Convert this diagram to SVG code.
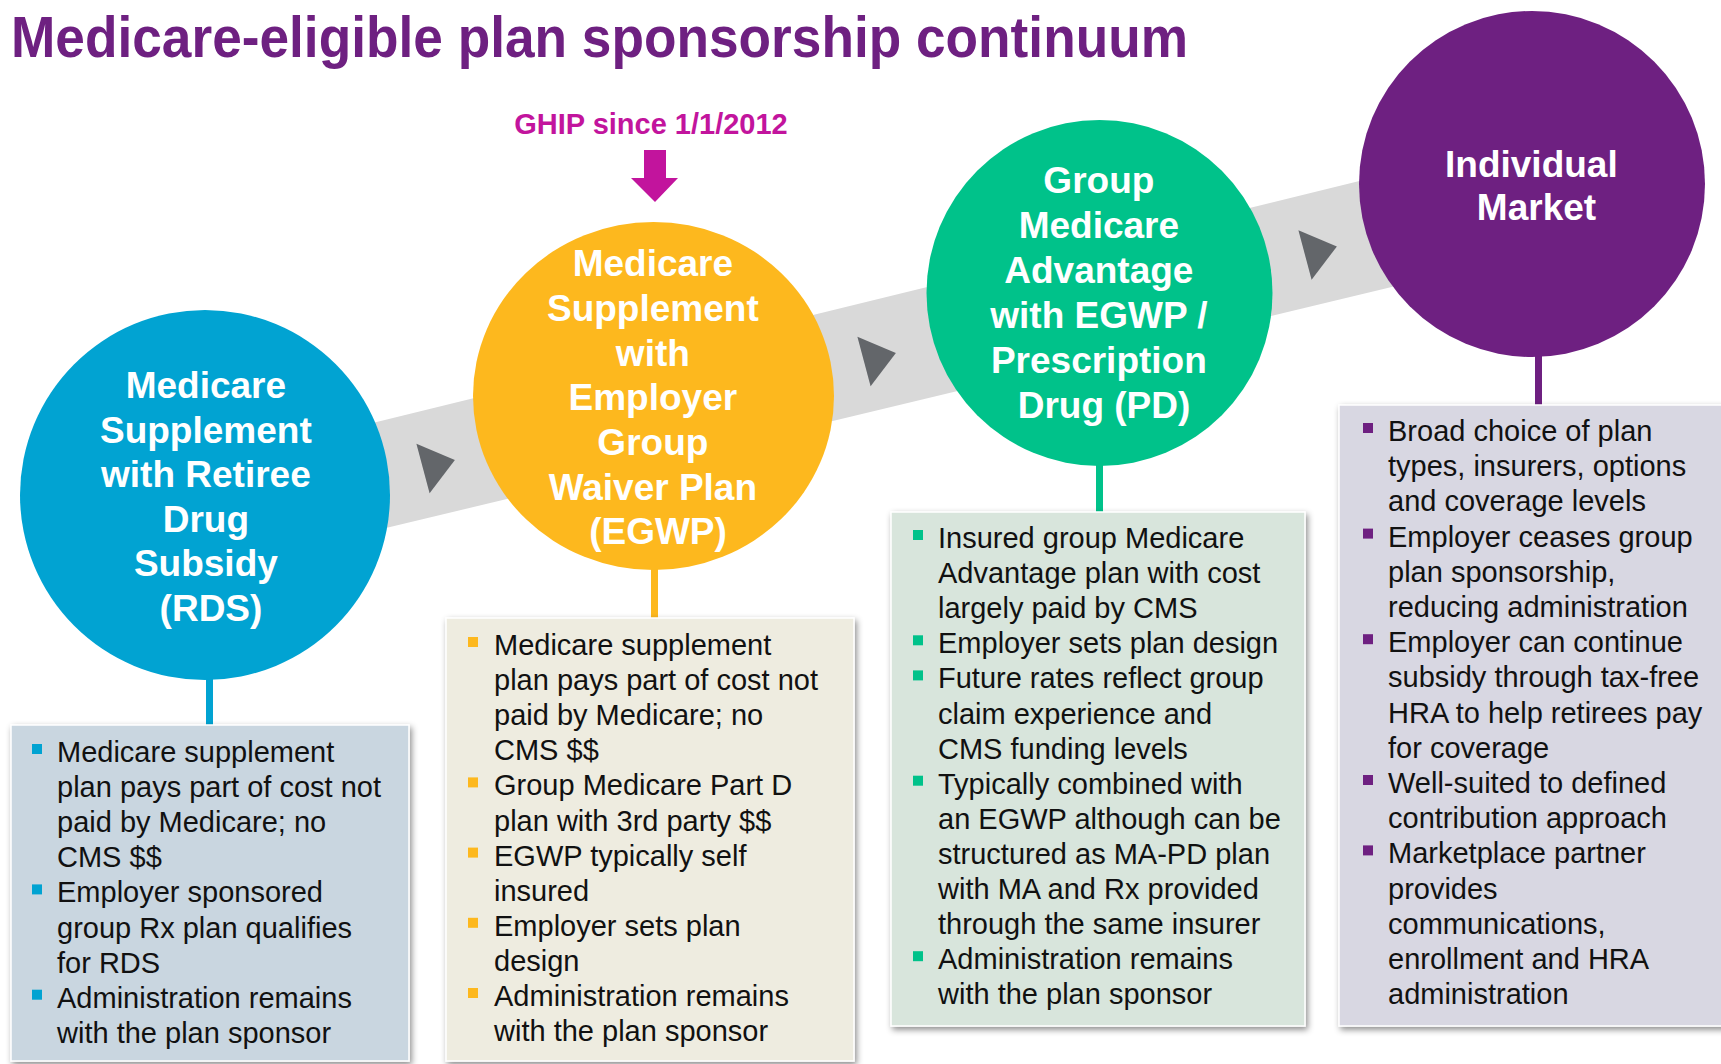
<svg xmlns="http://www.w3.org/2000/svg" xmlns:xlink="http://www.w3.org/1999/xlink" width="1721" height="1064" viewBox="0 0 1721 1064">
  <defs>
    <style>
      .title { font-family: "Liberation Sans", Arial, sans-serif; font-weight: bold; font-size: 57px; fill: #6E2081; }
      .note { font-family: "Liberation Sans", Arial, sans-serif; font-weight: bold; font-size: 29px; fill: #C2149D; }
      .node-label { font-family: "Liberation Sans", Arial, sans-serif; font-weight: bold; font-size: 37px; fill: #FFFFFF; text-anchor: middle; }
      .body { font-family: "Liberation Sans", Arial, sans-serif; font-size: 29px; fill: #111111; }
      .panel { stroke: #FFFFFF; stroke-width: 1.5; filter: url(#shadow); }
      .band { fill: #D9D9D9; }
      .chevron { fill: #63666A; }
    </style>
    <filter id="shadow" x="-5%" y="-5%" width="112%" height="112%">
      <feDropShadow dx="2" dy="3" stdDeviation="3" flood-color="#000000" flood-opacity="0.45"/>
    </filter>
    <polygon id="chev" points="0,-25.5 0,25.5 33,0"/>
  </defs>

  <rect width="1721" height="1064" fill="#FFFFFF"/>

  <!-- heading -->
  <text class="title" x="11" y="57" textLength="1177" lengthAdjust="spacingAndGlyphs">Medicare-eligible plan sponsorship continuum</text>

  <!-- progression band, chevrons and drop lines -->
  <g id="connectors">
    <polygon class="band" points="340,431 1400,171 1400,285 340,539"/>
    <use xlink:href="#chev" class="chevron" transform="translate(423,468.5) rotate(-15)"/>
    <use xlink:href="#chev" class="chevron" transform="translate(864,361.5) rotate(-15)"/>
    <use xlink:href="#chev" class="chevron" transform="translate(1305,255) rotate(-15)"/>
    <rect x="206" y="670" width="7" height="56" fill="#01A3D2"/>
    <rect x="651" y="560" width="7" height="60" fill="#FDB81E"/>
    <rect x="1096" y="455" width="7" height="58" fill="#00C28A"/>
    <rect x="1535" y="350" width="7" height="56" fill="#6E2081"/>
  </g>

  <!-- annotation above the second stage -->
  <g id="ghip-note">
    <text class="note" x="651" y="134" text-anchor="middle">GHIP since 1/1/2012</text>
    <polygon points="644,150 666,150 666,178 678,178 655,202 631,178 644,178" fill="#C2149D"/>
  </g>

  <!-- stage 1 -->
  <g id="node-rds">
    <circle cx="205" cy="495" r="185" fill="#01A3D2"/>
    <text class="node-label">
      <tspan x="211" y="398">Medicare</tspan>
      <tspan x="211" y="442.5">Supplement</tspan>
      <tspan x="211" y="487">with Retiree</tspan>
      <tspan x="211" y="531.5">Drug</tspan>
      <tspan x="211" y="576">Subsidy</tspan>
      <tspan x="211" y="620.5">(RDS)</tspan>
    </text>
  </g>

  <!-- stage 2 -->
  <g id="node-egwp">
    <ellipse cx="653.5" cy="396" rx="180.5" ry="174" fill="#FDB81E"/>
    <text class="node-label">
      <tspan x="658" y="276">Medicare</tspan>
      <tspan x="658" y="321">Supplement</tspan>
      <tspan x="658" y="365.5">with</tspan>
      <tspan x="658" y="410">Employer</tspan>
      <tspan x="658" y="455">Group</tspan>
      <tspan x="658" y="499.5">Waiver Plan</tspan>
      <tspan x="658" y="544">(EGWP)</tspan>
    </text>
  </g>

  <!-- stage 3 -->
  <g id="node-ma">
    <circle cx="1099.5" cy="293" r="173" fill="#00C28A"/>
    <text class="node-label">
      <tspan x="1104" y="193">Group</tspan>
      <tspan x="1104" y="238">Medicare</tspan>
      <tspan x="1104" y="283">Advantage</tspan>
      <tspan x="1104" y="328">with EGWP /</tspan>
      <tspan x="1104" y="373">Prescription</tspan>
      <tspan x="1104" y="418">Drug (PD)</tspan>
    </text>
  </g>

  <!-- stage 4 -->
  <g id="node-individual">
    <circle cx="1532" cy="184" r="173" fill="#6E2081"/>
    <text class="node-label">
      <tspan x="1536.5" y="177">Individual</tspan>
      <tspan x="1536.5" y="220">Market</tspan>
    </text>
  </g>

  <!-- detail panels -->
  <g id="panel-rds">
    <rect class="panel" x="11" y="725" width="398" height="336" fill="#C9D6E0"/>
    <g fill="#01A3D2">
      <rect x="32" y="744" width="10" height="10"/>
      <rect x="32" y="884.4" width="10" height="10"/>
      <rect x="32" y="989.7" width="10" height="10"/>
    </g>
    <text class="body">
      <tspan x="57" y="762">Medicare supplement</tspan>
      <tspan x="57" dy="35.1">plan pays part of cost not</tspan>
      <tspan x="57" dy="35.1">paid by Medicare; no</tspan>
      <tspan x="57" dy="35.1">CMS $$</tspan>
      <tspan x="57" dy="35.1">Employer sponsored</tspan>
      <tspan x="57" dy="35.1">group Rx plan qualifies</tspan>
      <tspan x="57" dy="35.1">for RDS</tspan>
      <tspan x="57" dy="35.1">Administration remains</tspan>
      <tspan x="57" dy="35.1">with the plan sponsor</tspan>
    </text>
  </g>

  <g id="panel-egwp">
    <rect class="panel" x="446" y="618" width="408" height="443" fill="#EEECE0"/>
    <g fill="#FDB81E">
      <rect x="468" y="637" width="10" height="10"/>
      <rect x="468" y="777.4" width="10" height="10"/>
      <rect x="468" y="847.6" width="10" height="10"/>
      <rect x="468" y="917.8" width="10" height="10"/>
      <rect x="468" y="988" width="10" height="10"/>
    </g>
    <text class="body">
      <tspan x="494" y="655">Medicare supplement</tspan>
      <tspan x="494" dy="35.1">plan pays part of cost not</tspan>
      <tspan x="494" dy="35.1">paid by Medicare; no</tspan>
      <tspan x="494" dy="35.1">CMS $$</tspan>
      <tspan x="494" dy="35.1">Group Medicare Part D</tspan>
      <tspan x="494" dy="35.1">plan with 3rd party $$</tspan>
      <tspan x="494" dy="35.1">EGWP typically self</tspan>
      <tspan x="494" dy="35.1">insured</tspan>
      <tspan x="494" dy="35.1">Employer sets plan</tspan>
      <tspan x="494" dy="35.1">design</tspan>
      <tspan x="494" dy="35.1">Administration remains</tspan>
      <tspan x="494" dy="35.1">with the plan sponsor</tspan>
    </text>
  </g>

  <g id="panel-ma">
    <rect class="panel" x="891" y="512" width="414" height="514" fill="#D8E5DC"/>
    <g fill="#00C28A">
      <rect x="913" y="530" width="10" height="10"/>
      <rect x="913" y="635.3" width="10" height="10"/>
      <rect x="913" y="670.4" width="10" height="10"/>
      <rect x="913" y="775.7" width="10" height="10"/>
      <rect x="913" y="951.2" width="10" height="10"/>
    </g>
    <text class="body">
      <tspan x="938" y="548">Insured group Medicare</tspan>
      <tspan x="938" dy="35.1">Advantage plan with cost</tspan>
      <tspan x="938" dy="35.1">largely paid by CMS</tspan>
      <tspan x="938" dy="35.1">Employer sets plan design</tspan>
      <tspan x="938" dy="35.1">Future rates reflect group</tspan>
      <tspan x="938" dy="35.1">claim experience and</tspan>
      <tspan x="938" dy="35.1">CMS funding levels</tspan>
      <tspan x="938" dy="35.1">Typically combined with</tspan>
      <tspan x="938" dy="35.1">an EGWP although can be</tspan>
      <tspan x="938" dy="35.1">structured as MA-PD plan</tspan>
      <tspan x="938" dy="35.1">with MA and Rx provided</tspan>
      <tspan x="938" dy="35.1">through the same insurer</tspan>
      <tspan x="938" dy="35.1">Administration remains</tspan>
      <tspan x="938" dy="35.1">with the plan sponsor</tspan>
    </text>
  </g>

  <g id="panel-individual">
    <rect class="panel" x="1339" y="405" width="400" height="621" fill="#D8D7E2"/>
    <g fill="#6E2081">
      <rect x="1363" y="423" width="10" height="10"/>
      <rect x="1363" y="528.6" width="10" height="10"/>
      <rect x="1363" y="634.2" width="10" height="10"/>
      <rect x="1363" y="775" width="10" height="10"/>
      <rect x="1363" y="845.4" width="10" height="10"/>
    </g>
    <text class="body">
      <tspan x="1388" y="441">Broad choice of plan</tspan>
      <tspan x="1388" dy="35.2">types, insurers, options</tspan>
      <tspan x="1388" dy="35.2">and coverage levels</tspan>
      <tspan x="1388" dy="35.2">Employer ceases group</tspan>
      <tspan x="1388" dy="35.2">plan sponsorship,</tspan>
      <tspan x="1388" dy="35.2">reducing administration</tspan>
      <tspan x="1388" dy="35.2">Employer can continue</tspan>
      <tspan x="1388" dy="35.2">subsidy through tax-free</tspan>
      <tspan x="1388" dy="35.2">HRA to help retirees pay</tspan>
      <tspan x="1388" dy="35.2">for coverage</tspan>
      <tspan x="1388" dy="35.2">Well-suited to defined</tspan>
      <tspan x="1388" dy="35.2">contribution approach</tspan>
      <tspan x="1388" dy="35.2">Marketplace partner</tspan>
      <tspan x="1388" dy="35.2">provides</tspan>
      <tspan x="1388" dy="35.2">communications,</tspan>
      <tspan x="1388" dy="35.2">enrollment and HRA</tspan>
      <tspan x="1388" dy="35.2">administration</tspan>
    </text>
  </g>
</svg>
